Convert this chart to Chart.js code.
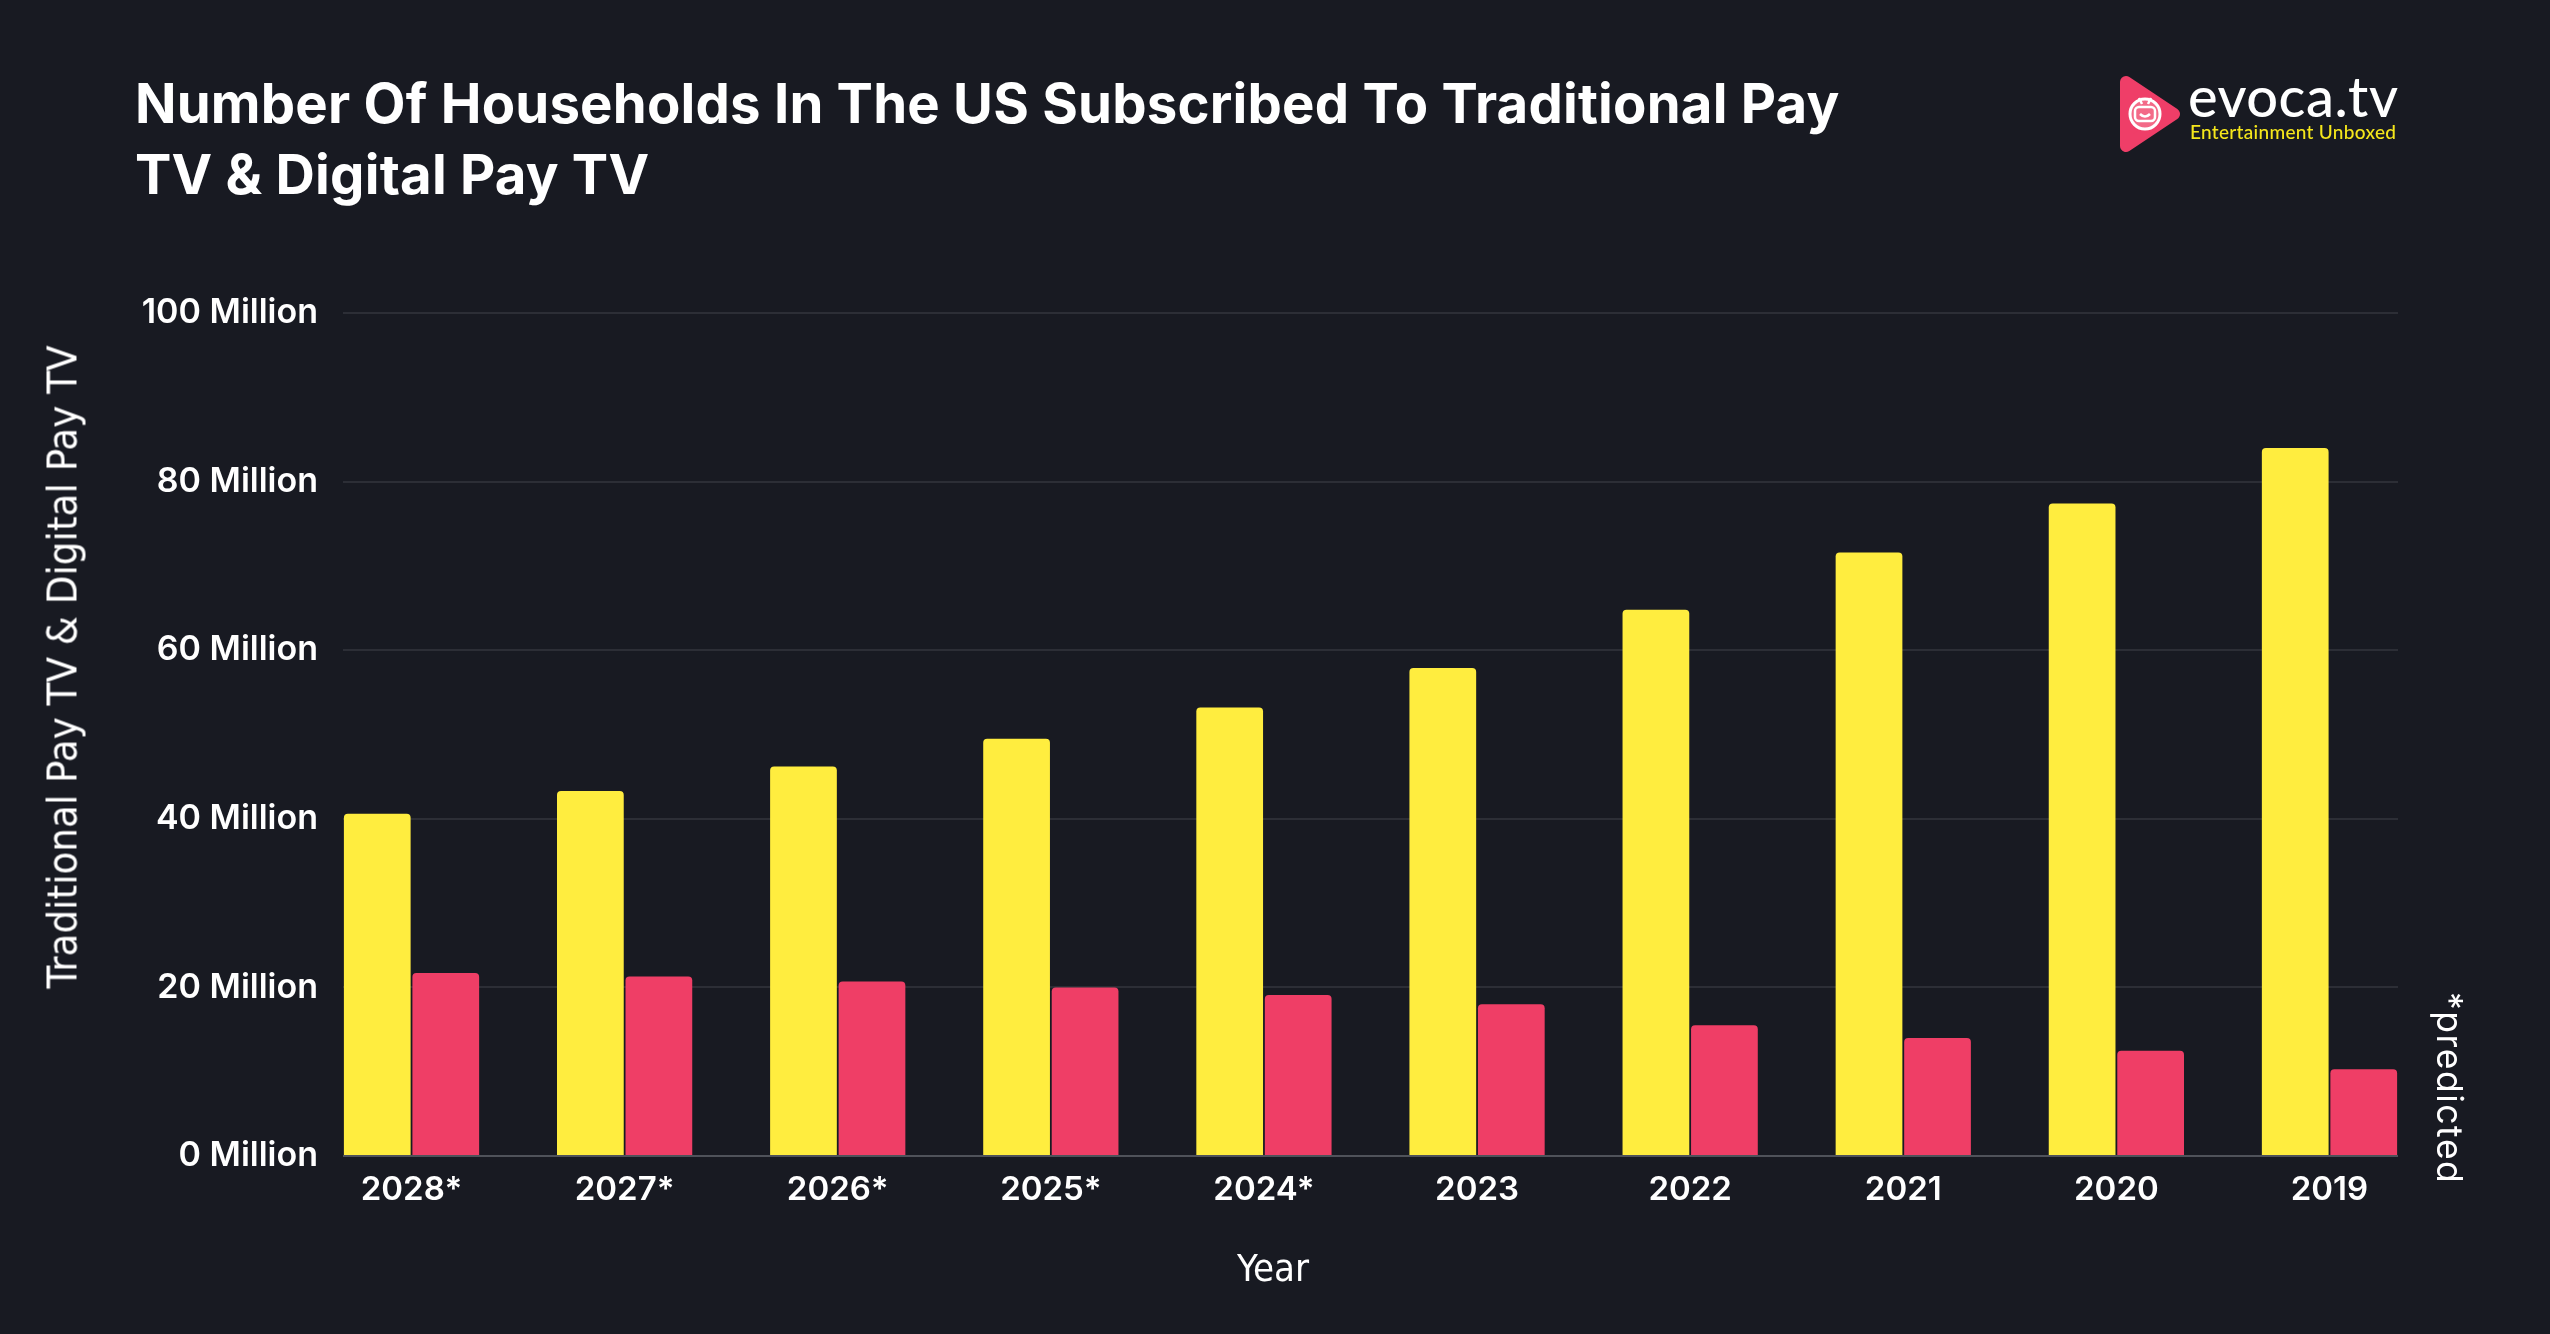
<!DOCTYPE html>
<html>
<head>
<meta charset="utf-8">
<title>US Pay TV households</title>
<script src="https://cdn.jsdelivr.net/npm/chart.js@4.4.1/dist/chart.umd.min.js"></script>
<style>
  html, body { margin: 0; padding: 0; background: #181a22; }
  #wrap { position: relative; width: 2550px; height: 1334px; overflow: hidden; background: #181a22; font-family: Inter, "Open Sans", sans-serif; color: #fff; }
  #chart { position: absolute; left: 0; top: 0; }
  .title { position: absolute; left: 135px; top: 68px; font-weight: 700; font-size: 54.5px; line-height: 71px; letter-spacing: 0.2px; }
  .ytitle { position: absolute; left: 62px; top: 667px; transform: translate(-50%, -50%) rotate(-90deg); white-space: nowrap; font-family: "Liberation Sans Narrow", "DejaVu Sans Condensed", sans-serif; font-size: 41.5px; }
  .xtitle { position: absolute; left: 1273px; top: 1268px; transform: translate(-50%, -50%); font-family: "Liberation Sans Narrow", "DejaVu Sans Condensed", sans-serif; font-size: 38px; }
  .note { position: absolute; left: 2428px; top: 992px; writing-mode: vertical-rl; font-size: 35.5px; letter-spacing: 1.5px; font-family: Inter, sans-serif; }
  .logo { position: absolute; left: 2118px; top: 74px; }
  .brand { position: absolute; left: 2188px; top: 62px; font-family: Lato, sans-serif; font-size: 56px; font-weight: 500; letter-spacing: 0.5px; }
  .tag { position: absolute; left: 2190px; top: 120px; font-family: Lato, sans-serif; font-size: 19px; font-weight: 500; color: #f5e61b; letter-spacing: 0.3px; }
</style>
</head>
<body>
<div id="wrap">
  <canvas id="chart" width="2550" height="1334"></canvas>
  <div class="title">Number Of Households In The US Subscribed To Traditional Pay<br>TV &amp; Digital Pay TV</div>
  <svg class="logo" width="64" height="80" viewBox="0 0 64 80">
    <path d="M8 8 L56 40 L8 72 Z" fill="#ef3e68" stroke="#ef3e68" stroke-width="12" stroke-linejoin="round"/>
    <circle cx="27" cy="40" r="15" fill="#f36a88" stroke="#fff" stroke-width="3"/>
    <line x1="21" y1="24" x2="24" y2="30" stroke="#fff" stroke-width="2.5"/>
    <line x1="33" y1="24" x2="30" y2="30" stroke="#fff" stroke-width="2.5"/>
    <rect x="17" y="33" width="20" height="14" rx="4" fill="none" stroke="#fff" stroke-width="2.5"/>
    <path d="M22 40 Q27 45 32 40" fill="none" stroke="#fff" stroke-width="2.5"/>
  </svg>
  <div class="brand">evoca.tv</div>
  <div class="tag">Entertainment Unboxed</div>
  <div class="ytitle">Traditional Pay TV &amp; Digital Pay TV</div>
  <div class="xtitle">Year</div>
  <div class="note">*predicted</div>
</div>
<script>
(function () {
  'use strict';

  var years = ['2028*', '2027*', '2026*', '2025*', '2024*', '2023', '2022', '2021', '2020', '2019'];
  var traditional = [40.6, 43.3, 46.2, 49.5, 53.2, 57.9, 64.8, 71.6, 77.4, 84.0];
  var digital = [21.7, 21.3, 20.7, 20.0, 19.1, 18.0, 15.5, 14.0, 12.5, 10.3];
  var yTicks = [0, 20, 40, 60, 80, 100];

  var CAT_PCT = 0.643;

  // pull the category centres in so the outer bars sit on the plot edges
  var edgeFit = {
    id: 'edgeFit',
    afterLayout: function (chart) {
      var x = chart.scales.x;
      var area = chart.chartArea;
      var span = (area.right - area.left) / (years.length - 1 + CAT_PCT);
      var inset = span * CAT_PCT / 2;
      x.left = area.left + inset;
      x.right = area.right - inset;
      x.configure();
    }
  };

  Chart.defaults.font.family = 'Inter, "Open Sans", sans-serif';
  Chart.defaults.color = '#ffffff';

  new Chart(document.getElementById('chart'), {
    type: 'bar',
    data: {
      labels: years,
      datasets: [
        {
          label: 'Traditional Pay TV',
          data: traditional,
          backgroundColor: '#ffed3f',
          borderRadius: 4,
          clip: false,
          categoryPercentage: CAT_PCT,
          barPercentage: 0.974
        },
        {
          label: 'Digital Pay TV',
          data: digital,
          backgroundColor: '#ef3e66',
          borderRadius: 4,
          clip: false,
          categoryPercentage: CAT_PCT,
          barPercentage: 0.974
        }
      ]
    },
    options: {
      responsive: false,
      animation: false,
      devicePixelRatio: 1,
      layout: { padding: { left: 100, right: 152, top: 313, bottom: 118 } },
      plugins: { legend: { display: false }, tooltip: { enabled: false } },
      scales: {
        x: {
          offset: false,
          grid: { display: false },
          border: { display: false },
          ticks: { autoSkip: false, maxRotation: 0, padding: 6, font: { size: 33, weight: '600' }, color: '#ffffff' },
          afterFit: function (s) { s.height = 60; }
        },
        y: {
          min: 0,
          max: 100,
          afterBuildTicks: function (s) {
            s.ticks = yTicks.map(function (v) { return { value: v }; });
          },
          grid: {
            drawTicks: false,
            lineWidth: 2,
            color: function (ctx) { return ctx.tick && ctx.tick.value === 0 ? '#4f525a' : '#2c2e36'; }
          },
          border: { display: false },
          ticks: {
            padding: 25,
            font: { size: 34, weight: '600' },
            color: '#ffffff',
            callback: function (v) { return v + ' Million'; }
          },
          afterFit: function (s) { s.width = 243; }
        }
      }
    },
    plugins: [edgeFit]
  });
})();
</script>
</body>
</html>
